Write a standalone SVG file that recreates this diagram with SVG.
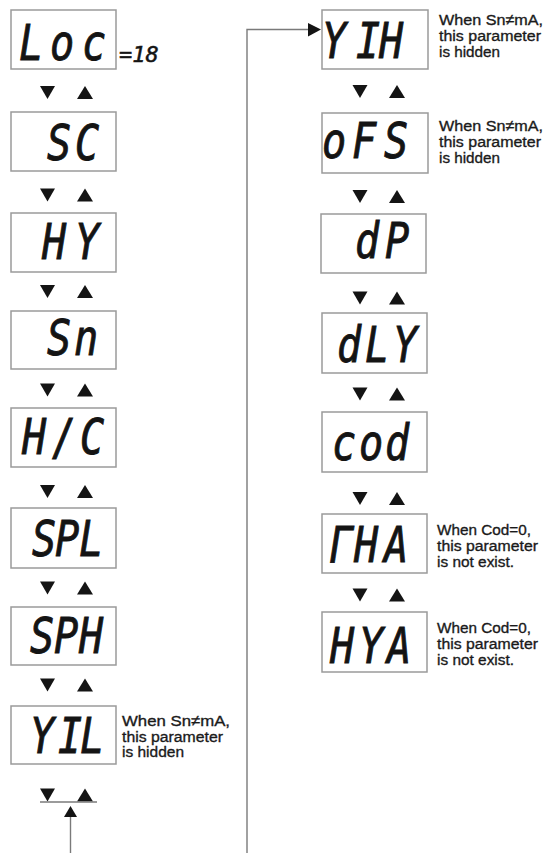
<svg xmlns="http://www.w3.org/2000/svg" width="544" height="853" viewBox="0 0 544 853">
<style>
.box{fill:#fff;stroke:#9a9a9a;stroke-width:1.5}
.seg{font-family:"DejaVu Sans Mono",monospace;font-style:oblique;font-size:49px;fill:#141414;stroke:#141414;stroke-width:0.9}
.note{font-family:"Liberation Sans",Arial,sans-serif;font-size:15.5px;fill:#1a1a1a;stroke:#1a1a1a;stroke-width:0.35}
.tri{fill:#141414}
.ln{stroke:#7a7a7a;stroke-width:1.4;fill:none}
</style>
<rect width="544" height="853" fill="#fff"/>
<defs>
<polygon id="dn" class="tri" points="-7.5,0 7.5,0 0,13"/>
<polygon id="up" class="tri" points="-8,13 8,13 0,0"/>
</defs>

<g id="connectors">
<g id="steps-left">
<use href="#dn" x="47.5" y="86"/><use href="#up" x="85" y="86"/>
<use href="#dn" x="47.5" y="188.5"/><use href="#up" x="85" y="188.5"/>
<use href="#dn" x="47.5" y="285"/><use href="#up" x="85" y="285"/>
<use href="#dn" x="47.5" y="383.5"/><use href="#up" x="85" y="383.5"/>
<use href="#dn" x="47.5" y="485"/><use href="#up" x="85" y="485"/>
<use href="#dn" x="47.5" y="581.5"/><use href="#up" x="85" y="581.5"/>
<use href="#dn" x="47.5" y="678.5"/><use href="#up" x="85" y="678.5"/>
<use href="#dn" x="47.5" y="788.5"/><use href="#up" x="85" y="788.5"/>
</g>
<g id="steps-right">
<use href="#dn" x="360" y="85"/><use href="#up" x="397" y="85"/>
<use href="#dn" x="360" y="190"/><use href="#up" x="397" y="190"/>
<use href="#dn" x="360" y="291.5"/><use href="#up" x="397" y="291.5"/>
<use href="#dn" x="360" y="387.5"/><use href="#up" x="397" y="387.5"/>
<use href="#dn" x="360" y="492"/><use href="#up" x="397" y="492"/>
<use href="#dn" x="360" y="588.5"/><use href="#up" x="397" y="588.5"/>
</g>
<line class="ln" x1="40" y1="802" x2="97" y2="802"/>
<line class="ln" x1="70.5" y1="816" x2="70.5" y2="853"/>
<polygon class="tri" points="64,817 77,817 70.5,806"/>
<polyline class="ln" points="247,853 247,29.5 309,29.5"/>
<polygon class="tri" points="308,23 308,36.5 321,29.5"/>
</g>

<g id="node-loc">
<rect class="box" x="11" y="10" width="105" height="59"/>
<text class="seg" transform="scale(0.82,1)" x="23.2 61 100" y="60">Loc</text>
<text class="seg" x="119" y="62" style="font-size:22px;stroke-width:0.5">=18</text>
</g>
<g id="node-sc">
<rect class="box" x="11" y="112" width="105" height="59"/>
<text class="seg" transform="scale(0.82,1)" x="57.3 91.5" y="160">SC</text>
</g>
<g id="node-hy">
<rect class="box" x="11" y="213" width="105" height="59"/>
<text class="seg" transform="scale(0.82,1)" x="51.2 91.5" y="259">HY</text>
</g>
<g id="node-sn">
<rect class="box" x="11" y="311" width="105" height="58"/>
<text class="seg" transform="scale(0.82,1)" x="57.3 90.2" y="355">Sn</text>
</g>
<g id="node-hc">
<rect class="box" x="11" y="408" width="105" height="59"/>
<text class="seg" transform="scale(0.82,1)" x="26.8 63.4 97.6" y="454">H/C</text>
</g>
<g id="node-spl">
<rect class="box" x="11" y="508" width="105" height="60"/>
<text class="seg" transform="scale(0.82,1)" x="39 67.1 96.3" y="556">SPL</text>
</g>
<g id="node-sph">
<rect class="box" x="11" y="607" width="105" height="58"/>
<text class="seg" transform="scale(0.82,1)" x="36.6 65.9 96.3" y="653">SPH</text>
</g>
<g id="node-yil">
<rect class="box" x="11" y="706" width="105" height="58"/>
<text class="seg" transform="scale(0.82,1)" x="36.6 70.7 97.6" y="753">YIL</text>
<text class="note" x="122" y="726" textLength="108" lengthAdjust="spacingAndGlyphs">When Sn≠mA,</text>
<text class="note" x="122" y="741.5" textLength="101" lengthAdjust="spacingAndGlyphs">this parameter</text>
<text class="note" x="122" y="757" textLength="62" lengthAdjust="spacingAndGlyphs">is hidden</text>
</g>

<g id="node-yih">
<rect class="box" x="322" y="10" width="106" height="59"/>
<text class="seg" transform="scale(0.82,1)" x="392.7 434.2 462.2" y="58">YIH</text>
<text class="note" x="439" y="25" textLength="104" lengthAdjust="spacingAndGlyphs">When Sn≠mA,</text>
<text class="note" x="439" y="41" textLength="102" lengthAdjust="spacingAndGlyphs">this parameter</text>
<text class="note" x="439" y="57" textLength="61" lengthAdjust="spacingAndGlyphs">is hidden</text>
</g>
<g id="node-ofs">
<rect class="box" x="322" y="113" width="106" height="60"/>
<text class="seg" transform="scale(0.82,1)" x="392.7 429.3 468.3" y="158">oFS</text>
<text class="note" x="439" y="131" textLength="104" lengthAdjust="spacingAndGlyphs">When Sn≠mA,</text>
<text class="note" x="439" y="147" textLength="102" lengthAdjust="spacingAndGlyphs">this parameter</text>
<text class="note" x="439" y="163" textLength="61" lengthAdjust="spacingAndGlyphs">is hidden</text>
</g>
<g id="node-dp">
<rect class="box" x="321" y="214" width="105" height="59"/>
<text class="seg" transform="scale(0.82,1)" x="432.9 469.5" y="258">dP</text>
</g>
<g id="node-dly">
<rect class="box" x="322" y="313" width="105" height="60"/>
<text class="seg" transform="scale(0.82,1)" x="411 445.1 479.3" y="362">dLY</text>
</g>
<g id="node-cod">
<rect class="box" x="322" y="412" width="105" height="60"/>
<text class="seg" transform="scale(0.82,1)" x="404.9 437.8 469.5" y="460">cod</text>
</g>
<g id="node-rha">
<rect class="box" x="322" y="514" width="105" height="59"/>
<text class="seg" transform="scale(0.82,1)" x="401.2 431.7 468.3" y="562">ΓHA</text>
<text class="note" x="437" y="535" textLength="94" lengthAdjust="spacingAndGlyphs">When Cod=0,</text>
<text class="note" x="437" y="551" textLength="101" lengthAdjust="spacingAndGlyphs">this parameter</text>
<text class="note" x="437" y="567" textLength="77" lengthAdjust="spacingAndGlyphs">is not exist.</text>
</g>
<g id="node-hya">
<rect class="box" x="322" y="612" width="105" height="60"/>
<text class="seg" transform="scale(0.82,1)" x="402.4 437.8 472" y="663">HYA</text>
<text class="note" x="437" y="633" textLength="94" lengthAdjust="spacingAndGlyphs">When Cod=0,</text>
<text class="note" x="437" y="649" textLength="101" lengthAdjust="spacingAndGlyphs">this parameter</text>
<text class="note" x="437" y="665" textLength="77" lengthAdjust="spacingAndGlyphs">is not exist.</text>
</g>
</svg>
